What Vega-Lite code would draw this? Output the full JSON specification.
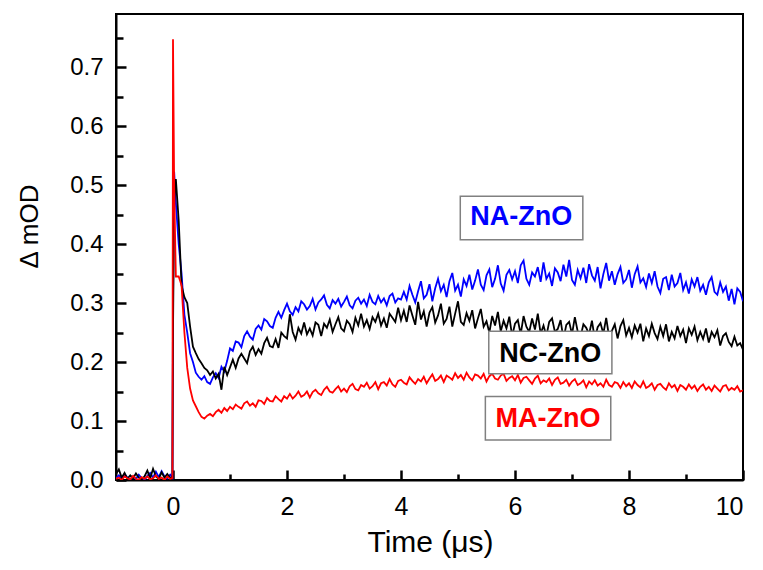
{
"$schema": "https://vega.github.io/schema/vega-lite/v6.json",
"width": 627, "height": 466,
"autosize": "none",
"padding": {"left": 116, "top": 14, "right": 20, "bottom": 90},
"background": "white",
"datasets": {
"trace": [
{"t":-1.00,"NA":0.003,"NC":0.010,"MA":0.002},
{"t":-0.95,"NA":0.008,"NC":0.018,"MA":0.004},
{"t":-0.90,"NA":0.002,"NC":0.004,"MA":0.000},
{"t":-0.85,"NA":0.010,"NC":0.012,"MA":0.006},
{"t":-0.80,"NA":0.004,"NC":0.002,"MA":0.003},
{"t":-0.75,"NA":0.001,"NC":0.008,"MA":0.001},
{"t":-0.70,"NA":0.006,"NC":0.003,"MA":0.007},
{"t":-0.65,"NA":0.002,"NC":0.011,"MA":0.002},
{"t":-0.60,"NA":0.009,"NC":0.004,"MA":0.000},
{"t":-0.55,"NA":0.003,"NC":0.001,"MA":0.005},
{"t":-0.50,"NA":0.000,"NC":0.006,"MA":0.002},
{"t":-0.45,"NA":0.007,"NC":0.016,"MA":0.006},
{"t":-0.40,"NA":0.012,"NC":0.003,"MA":0.001},
{"t":-0.35,"NA":0.004,"NC":0.019,"MA":0.003},
{"t":-0.30,"NA":0.014,"NC":0.006,"MA":0.008},
{"t":-0.25,"NA":0.005,"NC":0.002,"MA":0.002},
{"t":-0.20,"NA":0.015,"NC":0.013,"MA":0.004},
{"t":-0.15,"NA":0.006,"NC":0.004,"MA":0.000},
{"t":-0.10,"NA":0.003,"NC":0.010,"MA":0.006},
{"t":-0.05,"NA":0.009,"NC":0.003,"MA":0.002},
{"t":-0.01,"NA":0.004,"NC":0.006,"MA":0.003},
{"t":0.00,"NA":0.300,"NC":0.250,"MA":0.747},
{"t":0.02,"NA":0.523,"NC":0.470,"MA":0.500},
{"t":0.05,"NA":0.470,"NC":0.510,"MA":0.345},
{"t":0.10,"NA":0.400,"NC":0.440,"MA":0.345},
{"t":0.15,"NA":0.350,"NC":0.330,"MA":0.330},
{"t":0.20,"NA":0.280,"NC":0.310,"MA":0.250},
{"t":0.25,"NA":0.250,"NC":0.300,"MA":0.190},
{"t":0.30,"NA":0.215,"NC":0.260,"MA":0.155},
{"t":0.35,"NA":0.200,"NC":0.226,"MA":0.135},
{"t":0.40,"NA":0.182,"NC":0.215,"MA":0.125},
{"t":0.45,"NA":0.175,"NC":0.205,"MA":0.115},
{"t":0.50,"NA":0.170,"NC":0.198,"MA":0.107},
{"t":0.55,"NA":0.176,"NC":0.190,"MA":0.104},
{"t":0.60,"NA":0.166,"NC":0.186,"MA":0.109},
{"t":0.65,"NA":0.163,"NC":0.178,"MA":0.112},
{"t":0.70,"NA":0.174,"NC":0.184,"MA":0.108},
{"t":0.75,"NA":0.181,"NC":0.172,"MA":0.115},
{"t":0.80,"NA":0.173,"NC":0.180,"MA":0.119},
{"t":0.85,"NA":0.192,"NC":0.153,"MA":0.114},
{"t":0.90,"NA":0.184,"NC":0.192,"MA":0.122},
{"t":0.95,"NA":0.202,"NC":0.178,"MA":0.117},
{"t":1.00,"NA":0.223,"NC":0.191,"MA":0.124},
{"t":1.05,"NA":0.219,"NC":0.204,"MA":0.120},
{"t":1.10,"NA":0.235,"NC":0.190,"MA":0.128},
{"t":1.15,"NA":0.233,"NC":0.206,"MA":0.124},
{"t":1.20,"NA":0.225,"NC":0.214,"MA":0.121},
{"t":1.25,"NA":0.244,"NC":0.206,"MA":0.130},
{"t":1.30,"NA":0.252,"NC":0.198,"MA":0.133},
{"t":1.35,"NA":0.243,"NC":0.218,"MA":0.126},
{"t":1.40,"NA":0.238,"NC":0.226,"MA":0.130},
{"t":1.45,"NA":0.256,"NC":0.212,"MA":0.124},
{"t":1.50,"NA":0.262,"NC":0.222,"MA":0.135},
{"t":1.55,"NA":0.255,"NC":0.214,"MA":0.134},
{"t":1.60,"NA":0.273,"NC":0.232,"MA":0.129},
{"t":1.65,"NA":0.269,"NC":0.241,"MA":0.139},
{"t":1.70,"NA":0.261,"NC":0.227,"MA":0.134},
{"t":1.75,"NA":0.258,"NC":0.225,"MA":0.133},
{"t":1.80,"NA":0.275,"NC":0.239,"MA":0.142},
{"t":1.85,"NA":0.285,"NC":0.224,"MA":0.137},
{"t":1.90,"NA":0.275,"NC":0.250,"MA":0.133},
{"t":1.95,"NA":0.288,"NC":0.244,"MA":0.142},
{"t":2.00,"NA":0.299,"NC":0.240,"MA":0.138},
{"t":2.05,"NA":0.286,"NC":0.281,"MA":0.146},
{"t":2.10,"NA":0.280,"NC":0.251,"MA":0.138},
{"t":2.15,"NA":0.293,"NC":0.238,"MA":0.143},
{"t":2.20,"NA":0.286,"NC":0.258,"MA":0.150},
{"t":2.25,"NA":0.303,"NC":0.248,"MA":0.141},
{"t":2.30,"NA":0.298,"NC":0.267,"MA":0.144},
{"t":2.35,"NA":0.289,"NC":0.247,"MA":0.150},
{"t":2.40,"NA":0.295,"NC":0.257,"MA":0.140},
{"t":2.45,"NA":0.307,"NC":0.245,"MA":0.149},
{"t":2.50,"NA":0.289,"NC":0.267,"MA":0.153},
{"t":2.55,"NA":0.301,"NC":0.263,"MA":0.147},
{"t":2.60,"NA":0.306,"NC":0.244,"MA":0.144},
{"t":2.65,"NA":0.313,"NC":0.265,"MA":0.153},
{"t":2.70,"NA":0.297,"NC":0.258,"MA":0.158},
{"t":2.75,"NA":0.291,"NC":0.272,"MA":0.150},
{"t":2.80,"NA":0.305,"NC":0.251,"MA":0.148},
{"t":2.85,"NA":0.299,"NC":0.264,"MA":0.154},
{"t":2.90,"NA":0.307,"NC":0.276,"MA":0.159},
{"t":2.95,"NA":0.294,"NC":0.257,"MA":0.150},
{"t":3.00,"NA":0.302,"NC":0.252,"MA":0.155},
{"t":3.05,"NA":0.311,"NC":0.270,"MA":0.149},
{"t":3.10,"NA":0.296,"NC":0.264,"MA":0.159},
{"t":3.15,"NA":0.291,"NC":0.251,"MA":0.163},
{"t":3.20,"NA":0.304,"NC":0.275,"MA":0.154},
{"t":3.25,"NA":0.309,"NC":0.262,"MA":0.152},
{"t":3.30,"NA":0.299,"NC":0.282,"MA":0.161},
{"t":3.35,"NA":0.306,"NC":0.260,"MA":0.158},
{"t":3.40,"NA":0.295,"NC":0.271,"MA":0.165},
{"t":3.45,"NA":0.314,"NC":0.256,"MA":0.155},
{"t":3.50,"NA":0.302,"NC":0.276,"MA":0.159},
{"t":3.55,"NA":0.298,"NC":0.268,"MA":0.166},
{"t":3.60,"NA":0.312,"NC":0.282,"MA":0.154},
{"t":3.65,"NA":0.301,"NC":0.262,"MA":0.164},
{"t":3.70,"NA":0.308,"NC":0.274,"MA":0.166},
{"t":3.75,"NA":0.296,"NC":0.258,"MA":0.160},
{"t":3.80,"NA":0.312,"NC":0.282,"MA":0.171},
{"t":3.85,"NA":0.316,"NC":0.275,"MA":0.162},
{"t":3.90,"NA":0.301,"NC":0.268,"MA":0.158},
{"t":3.95,"NA":0.308,"NC":0.292,"MA":0.168},
{"t":4.00,"NA":0.306,"NC":0.271,"MA":0.170},
{"t":4.05,"NA":0.319,"NC":0.287,"MA":0.165},
{"t":4.10,"NA":0.306,"NC":0.268,"MA":0.162},
{"t":4.15,"NA":0.329,"NC":0.296,"MA":0.174},
{"t":4.20,"NA":0.314,"NC":0.279,"MA":0.168},
{"t":4.25,"NA":0.301,"NC":0.263,"MA":0.163},
{"t":4.30,"NA":0.320,"NC":0.302,"MA":0.171},
{"t":4.35,"NA":0.337,"NC":0.272,"MA":0.167},
{"t":4.40,"NA":0.308,"NC":0.286,"MA":0.175},
{"t":4.45,"NA":0.314,"NC":0.260,"MA":0.164},
{"t":4.50,"NA":0.332,"NC":0.284,"MA":0.172},
{"t":4.55,"NA":0.303,"NC":0.293,"MA":0.179},
{"t":4.60,"NA":0.325,"NC":0.267,"MA":0.168},
{"t":4.65,"NA":0.341,"NC":0.279,"MA":0.171},
{"t":4.70,"NA":0.320,"NC":0.299,"MA":0.177},
{"t":4.75,"NA":0.331,"NC":0.265,"MA":0.166},
{"t":4.80,"NA":0.310,"NC":0.273,"MA":0.177},
{"t":4.85,"NA":0.337,"NC":0.294,"MA":0.174},
{"t":4.90,"NA":0.351,"NC":0.260,"MA":0.170},
{"t":4.95,"NA":0.321,"NC":0.282,"MA":0.181},
{"t":5.00,"NA":0.331,"NC":0.303,"MA":0.173},
{"t":5.05,"NA":0.311,"NC":0.268,"MA":0.178},
{"t":5.10,"NA":0.340,"NC":0.263,"MA":0.170},
{"t":5.15,"NA":0.329,"NC":0.283,"MA":0.182},
{"t":5.20,"NA":0.348,"NC":0.270,"MA":0.174},
{"t":5.25,"NA":0.323,"NC":0.288,"MA":0.169},
{"t":5.30,"NA":0.338,"NC":0.257,"MA":0.179},
{"t":5.35,"NA":0.357,"NC":0.274,"MA":0.177},
{"t":5.40,"NA":0.331,"NC":0.290,"MA":0.172},
{"t":5.45,"NA":0.322,"NC":0.260,"MA":0.180},
{"t":5.50,"NA":0.347,"NC":0.269,"MA":0.167},
{"t":5.55,"NA":0.357,"NC":0.250,"MA":0.176},
{"t":5.60,"NA":0.327,"NC":0.278,"MA":0.180},
{"t":5.65,"NA":0.341,"NC":0.262,"MA":0.172},
{"t":5.70,"NA":0.364,"NC":0.285,"MA":0.170},
{"t":5.75,"NA":0.333,"NC":0.252,"MA":0.177},
{"t":5.80,"NA":0.321,"NC":0.270,"MA":0.180},
{"t":5.85,"NA":0.348,"NC":0.257,"MA":0.168},
{"t":5.90,"NA":0.356,"NC":0.277,"MA":0.173},
{"t":5.95,"NA":0.340,"NC":0.244,"MA":0.176},
{"t":6.00,"NA":0.354,"NC":0.265,"MA":0.169},
{"t":6.05,"NA":0.334,"NC":0.271,"MA":0.178},
{"t":6.10,"NA":0.364,"NC":0.247,"MA":0.165},
{"t":6.15,"NA":0.372,"NC":0.278,"MA":0.173},
{"t":6.20,"NA":0.341,"NC":0.260,"MA":0.175},
{"t":6.25,"NA":0.331,"NC":0.251,"MA":0.169},
{"t":6.30,"NA":0.352,"NC":0.274,"MA":0.163},
{"t":6.35,"NA":0.345,"NC":0.255,"MA":0.172},
{"t":6.40,"NA":0.361,"NC":0.282,"MA":0.177},
{"t":6.45,"NA":0.336,"NC":0.248,"MA":0.164},
{"t":6.50,"NA":0.369,"NC":0.262,"MA":0.169},
{"t":6.55,"NA":0.341,"NC":0.244,"MA":0.166},
{"t":6.60,"NA":0.350,"NC":0.268,"MA":0.172},
{"t":6.65,"NA":0.329,"NC":0.274,"MA":0.161},
{"t":6.70,"NA":0.359,"NC":0.251,"MA":0.170},
{"t":6.75,"NA":0.352,"NC":0.256,"MA":0.174},
{"t":6.80,"NA":0.337,"NC":0.271,"MA":0.163},
{"t":6.85,"NA":0.365,"NC":0.239,"MA":0.165},
{"t":6.90,"NA":0.345,"NC":0.263,"MA":0.170},
{"t":6.95,"NA":0.373,"NC":0.268,"MA":0.160},
{"t":7.00,"NA":0.339,"NC":0.247,"MA":0.167},
{"t":7.05,"NA":0.331,"NC":0.276,"MA":0.171},
{"t":7.10,"NA":0.356,"NC":0.252,"MA":0.161},
{"t":7.15,"NA":0.342,"NC":0.243,"MA":0.164},
{"t":7.20,"NA":0.360,"NC":0.264,"MA":0.169},
{"t":7.25,"NA":0.334,"NC":0.258,"MA":0.157},
{"t":7.30,"NA":0.366,"NC":0.247,"MA":0.167},
{"t":7.35,"NA":0.347,"NC":0.270,"MA":0.162},
{"t":7.40,"NA":0.338,"NC":0.239,"MA":0.169},
{"t":7.45,"NA":0.361,"NC":0.259,"MA":0.160},
{"t":7.50,"NA":0.325,"NC":0.266,"MA":0.164},
{"t":7.55,"NA":0.349,"NC":0.248,"MA":0.158},
{"t":7.60,"NA":0.368,"NC":0.275,"MA":0.170},
{"t":7.65,"NA":0.338,"NC":0.243,"MA":0.161},
{"t":7.70,"NA":0.354,"NC":0.253,"MA":0.158},
{"t":7.75,"NA":0.331,"NC":0.264,"MA":0.166},
{"t":7.80,"NA":0.349,"NC":0.240,"MA":0.164},
{"t":7.85,"NA":0.361,"NC":0.261,"MA":0.156},
{"t":7.90,"NA":0.334,"NC":0.271,"MA":0.166},
{"t":7.95,"NA":0.340,"NC":0.245,"MA":0.159},
{"t":8.00,"NA":0.356,"NC":0.258,"MA":0.164},
{"t":8.05,"NA":0.326,"NC":0.242,"MA":0.156},
{"t":8.10,"NA":0.349,"NC":0.262,"MA":0.167},
{"t":8.15,"NA":0.362,"NC":0.250,"MA":0.161},
{"t":8.20,"NA":0.335,"NC":0.265,"MA":0.157},
{"t":8.25,"NA":0.342,"NC":0.235,"MA":0.167},
{"t":8.30,"NA":0.327,"NC":0.257,"MA":0.156},
{"t":8.35,"NA":0.350,"NC":0.244,"MA":0.159},
{"t":8.40,"NA":0.334,"NC":0.265,"MA":0.164},
{"t":8.45,"NA":0.354,"NC":0.249,"MA":0.153},
{"t":8.50,"NA":0.328,"NC":0.239,"MA":0.161},
{"t":8.55,"NA":0.317,"NC":0.260,"MA":0.163},
{"t":8.60,"NA":0.341,"NC":0.244,"MA":0.157},
{"t":8.65,"NA":0.344,"NC":0.264,"MA":0.153},
{"t":8.70,"NA":0.322,"NC":0.235,"MA":0.164},
{"t":8.75,"NA":0.348,"NC":0.251,"MA":0.157},
{"t":8.80,"NA":0.328,"NC":0.240,"MA":0.161},
{"t":8.85,"NA":0.334,"NC":0.261,"MA":0.151},
{"t":8.90,"NA":0.351,"NC":0.244,"MA":0.161},
{"t":8.95,"NA":0.322,"NC":0.255,"MA":0.158},
{"t":9.00,"NA":0.335,"NC":0.232,"MA":0.153},
{"t":9.05,"NA":0.316,"NC":0.257,"MA":0.162},
{"t":9.10,"NA":0.340,"NC":0.246,"MA":0.155},
{"t":9.15,"NA":0.328,"NC":0.260,"MA":0.160},
{"t":9.20,"NA":0.344,"NC":0.237,"MA":0.151},
{"t":9.25,"NA":0.321,"NC":0.251,"MA":0.158},
{"t":9.30,"NA":0.331,"NC":0.239,"MA":0.162},
{"t":9.35,"NA":0.314,"NC":0.257,"MA":0.153},
{"t":9.40,"NA":0.335,"NC":0.233,"MA":0.158},
{"t":9.45,"NA":0.344,"NC":0.251,"MA":0.151},
{"t":9.50,"NA":0.319,"NC":0.242,"MA":0.160},
{"t":9.55,"NA":0.314,"NC":0.254,"MA":0.155},
{"t":9.60,"NA":0.335,"NC":0.228,"MA":0.150},
{"t":9.65,"NA":0.319,"NC":0.244,"MA":0.159},
{"t":9.70,"NA":0.328,"NC":0.249,"MA":0.161},
{"t":9.75,"NA":0.304,"NC":0.234,"MA":0.152},
{"t":9.80,"NA":0.324,"NC":0.227,"MA":0.156},
{"t":9.85,"NA":0.298,"NC":0.243,"MA":0.153},
{"t":9.90,"NA":0.325,"NC":0.228,"MA":0.159},
{"t":9.95,"NA":0.319,"NC":0.232,"MA":0.150},
{"t":10.00,"NA":0.303,"NC":0.221,"MA":0.152}
],
"labels": [
{"s":"NA","label":"NA-ZnO","t":6.11,"v":0.4465,"t1":5.04,"t2":7.19,"v1":0.4075,"v2":0.481},
{"s":"NC","label":"NC-ZnO","t":6.62,"v":0.214,"t1":5.54,"t2":7.70,"v1":0.180,"v2":0.252},
{"s":"MA","label":"MA-ZnO","t":6.58,"v":0.1036,"t1":5.48,"t2":7.68,"v1":0.068,"v2":0.1415}
]
},
"resolve": {"axis": {"x": "independent", "y": "independent"}},
"layer": [
{
"data": {"name": "trace"},
"transform": [{"fold": ["NA","NC","MA"], "as": ["s","val"]}],
"mark": {"type": "line", "strokeWidth": 1.8, "clip": true},
"encoding": {
"x": {"field": "t", "type": "quantitative",
"scale": {"domain": [-1, 10], "nice": false, "zero": false},
"axis": {"title": "Time (μs)", "orient": "bottom", "values": [0,2,4,6,8,10], "format": "d",
"ticks": false, "labelFontSize": 25, "labelPadding": 14, "titleFontSize": 30,
"titleX": 314, "titleY": 62, "titleAlign": "center", "titleBaseline": "middle"}},
"y": {"field": "val", "type": "quantitative",
"scale": {"domain": [0, 0.79], "nice": false, "zero": false},
"axis": {"title": "Δ mOD", "orient": "left", "values": [0,0.1,0.2,0.3,0.4,0.5,0.6,0.7], "format": ".1f",
"ticks": false, "labelFontSize": 24, "labelPadding": 13, "titleFontSize": 26,
"titleX": -87, "titleY": 212, "titleAngle": -90, "titleAlign": "center", "titleBaseline": "middle"}},
"color": {"field": "s", "type": "nominal", "scale": {"domain": ["NA","NC","MA"], "range": ["#0000ff","#000000","#ff0000"]}, "legend": null},
"order": {"field": "t", "type": "quantitative"}
}
},
{
"data": {"name": "labels"},
"mark": {"type": "rect", "fill": "white", "stroke": "#808080", "strokeWidth": 1.5},
"encoding": {
"x": {"field": "t1", "type": "quantitative",
"axis": {"orient": "bottom", "values": [1,3,5,7,9], "labels": false, "domain": false, "tickSize": -6, "title": null}},
"x2": {"field": "t2"},
"y": {"field": "v1", "type": "quantitative",
"axis": {"orient": "left", "values": [0.05,0.15,0.25,0.35,0.45,0.55,0.65,0.75], "labels": false, "domain": false, "tickSize": -7, "title": null}},
"y2": {"field": "v2"}
}
},
{
"data": {"name": "labels"},
"mark": {"type": "text", "font": "Liberation Sans", "fontWeight": "bold", "fontSize": 27, "align": "center", "baseline": "middle"},
"encoding": {
"x": {"field": "t", "type": "quantitative",
"axis": {"orient": "bottom", "values": [0,2,4,6,8,10], "labels": false, "domain": false, "tickSize": -10, "title": null}},
"y": {"field": "v", "type": "quantitative",
"axis": {"orient": "left", "values": [0,0.1,0.2,0.3,0.4,0.5,0.6,0.7], "labels": false, "domain": false, "tickSize": -10, "title": null}},
"text": {"field": "label"},
"color": {"field": "s", "type": "nominal", "legend": null}
}
}
],
"config": {
"view": {"stroke": "black", "strokeWidth": 2},
"axis": {"grid": false, "domainColor": "black", "domainWidth": 2, "tickColor": "black", "tickWidth": 2.5,
"labelColor": "black", "titleColor": "black", "labelFont": "Liberation Sans", "titleFont": "Liberation Sans",
"titleFontWeight": "normal"}
}
}
